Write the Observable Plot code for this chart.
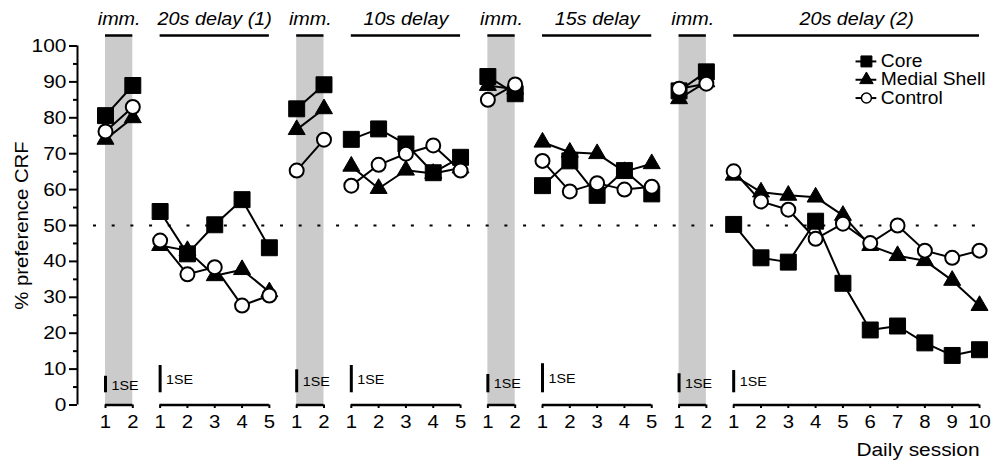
<!DOCTYPE html>
<html><head><meta charset="utf-8">
<script src="https://cdn.jsdelivr.net/npm/d3@7"></script>
<script src="https://cdn.jsdelivr.net/npm/@observablehq/plot@0.6"></script>
<style>body{margin:0;background:#fff}</style>
</head><body><div id="chart"></div>
<script>
// ---- data ----
const segmentLabels = ["imm.", "20s delay (1)", "imm.", "10s delay", "imm.", "15s delay", "imm.", "20s delay (2)"];
const segmentSessions = [2, 5, 2, 5, 2, 5, 2, 10];
const segmentIsImmediate = [true, false, true, false, true, false, true, false];
const seriesNames = ["Core", "Medial Shell", "Control"];
const coreValues = [80.6, 89.0, 53.9, 42.1, 50.2, 57.2, 43.8, 82.5, 89.2, 74.0, 76.9, 72.7, 64.7, 69.0,
  91.5, 86.7, 61.1, 68.0, 58.4, 65.3, 58.8, 87.5, 92.8,
  50.3, 41.0, 39.8, 51.2, 33.9, 20.9, 22.0, 17.3, 13.8, 15.4];
const medialValues = [74.0, 80.0, 44.4, 43.0, 36.0, 37.7, 31.5, 76.7, 82.5, 66.5, 60.3, 65.4, 64.5, 66.0,
  89.0, 88.0, 73.2, 70.4, 70.0, 65.0, 67.2, 85.3, 90.0,
  64.0, 59.3, 58.4, 57.9, 52.8, 44.4, 41.6, 40.2, 34.7, 27.7];
const controlValues = [76.2, 83.0, 45.8, 36.4, 38.4, 27.7, 30.5, 65.3, 73.9, 61.1, 66.9, 70.0, 72.3, 65.3,
  85.0, 89.3, 68.0, 59.5, 61.8, 60.0, 60.8, 88.1, 89.5,
  65.1, 56.7, 54.4, 46.3, 50.5, 45.1, 50.0, 43.0, 41.0, 43.0];
const seBarTop = [8.0, 11.0, 9.8, 11.0, 8.5, 11.5, 8.7, 9.6];
const seBarBottom = 3.4;
const seLabelY = [5.4, 7.0, 6.5, 7.0, 5.9, 7.3, 5.9, 6.35];
const seLabel = "1SE";
const yTicks = [0, 10, 20, 30, 40, 50, 60, 70, 80, 90, 100];
const yMinorTicks = [5, 15, 25, 35, 45, 55, 65, 75, 85, 95];
const chanceLevel = 50;
const yTitle = "% preference CRF";
const xTitle = "Daily session";

// ---- layout helpers ----
const W = 991, H = 461, mL = 77, mR = 12, mT = 45.5, mB = 56.5;
const xMin = -1.025, xMax = 32;
const pxX = (W - mL - mR) / (xMax - xMin);
const pxY = (H - mT - mB) / 100;
const topLineY = 100 + 10.5 / pxY;
const segLabelY = 100 + 26.5 / pxY;
const dotStart = -0.44, dotEnd = 31.9;
const legendY = [95.7, 90.6, 85.5];
const legendX = 27.86, legendHalf = 0.38;

const segStart = []; let acc = 0;
segmentSessions.forEach(n => { segStart.push(acc); acc += n; });
const segments = segmentLabels.map((label, i) => ({
  label, start: segStart[i], end: segStart[i] + segmentSessions[i] - 1,
  imm: segmentIsImmediate[i], seTop: seBarTop[i], seLabelY: seLabelY[i], se: seLabel
}));
const sessions = segments.flatMap((s, i) => d3.range(1, segmentSessions[i] + 1)
  .map(k => ({seg: i, session: k, idx: s.start + k - 1})));
const rowsOf = vals => sessions.map((s, j) => ({...s, value: vals[j]}));
const core = rowsOf(coreValues), medial = rowsOf(medialValues), control = rowsOf(controlValues);
const legend = seriesNames.map((name, i) => ({name, y: legendY[i]}));

const styles = {
  "Core": {symbol: "square", r: 9, fill: "black", stroke: "black", strokeWidth: 1},
  "Medial Shell": {symbol: "triangle", r: 6.3, fill: "black", stroke: "black", strokeWidth: 1},
  "Control": {symbol: "circle", r: 7, fill: "white", stroke: "black", strokeWidth: 2}
};
const legendStyles = {
  "Core": {symbol: "square", r: 6.2, fill: "black", stroke: "black", strokeWidth: 1},
  "Medial Shell": {symbol: "triangle", r: 5.0, fill: "black", stroke: "black", strokeWidth: 1},
  "Control": {symbol: "circle", r: 5, fill: "white", stroke: "black", strokeWidth: 1.5}
};
const seriesMarks = (rows, name) => [
  Plot.line(rows, {x: "idx", y: "value", z: "seg", stroke: "black", strokeWidth: 2}),
  Plot.dot(rows, {x: "idx", y: "value", ...styles[name]})
];

const chart = Plot.plot({
  width: W, height: H,
  marginLeft: mL, marginRight: mR, marginTop: mT, marginBottom: mB,
  x: {domain: [xMin, xMax], axis: null},
  y: {domain: [0, 100], axis: null},
  style: {fontFamily: "'Liberation Sans', Arial, sans-serif", background: "white", color: "black"},
  marks: [
    // grey bands for immediate sessions
    Plot.rect(segments.filter(d => d.imm), {x1: "start", x2: "end", y1: 0, y2: topLineY, fill: "#cbcbcb"}),
    // segment header lines and labels
    Plot.ruleY(segments, {y: topLineY, x1: "start", x2: "end", stroke: "black", strokeWidth: 2.5}),
    Plot.text(segments, {x: d => (d.start + d.end) / 2, y: segLabelY, text: "label", fontStyle: "italic", fontSize: 18, ariaLabel: "seg-labels"}),
    // y axis
    Plot.ruleX([xMin], {y1: 0, y2: 100, stroke: "black", strokeWidth: 2}),
    Plot.ruleY(yTicks, {y: d => d, x1: xMin - 8 / pxX, x2: xMin, stroke: "black", strokeWidth: 2}),
    Plot.ruleY(yMinorTicks, {y: d => d, x1: xMin - 4 / pxX, x2: xMin, stroke: "black", strokeWidth: 2}),
    Plot.text(yTicks, {x: xMin, y: d => d, text: d => String(d), dx: -11, textAnchor: "end", fontSize: 19, ariaLabel: "y-ticks"}),
    Plot.text([yTitle], {x: xMin, y: 50, text: d => d, rotate: -90, dx: -55, fontSize: 18.5, ariaLabel: "y-title"}),
    // chance line
    Plot.ruleY([chanceLevel], {x1: dotStart, x2: dotEnd, stroke: "black", strokeWidth: 2, strokeDasharray: "3,15.7"}),
    // segmented x axes
    Plot.ruleY(segments, {y: 0, x1: "start", x2: "end", stroke: "black", strokeWidth: 2.5}),
    Plot.ruleX(sessions, {x: "idx", y1: 0, y2: -3.5 / pxY, stroke: "black", strokeWidth: 2}),
    Plot.text(sessions, {x: "idx", y: 0, text: d => String(d.session), dy: 17.5, fontSize: 18.5, ariaLabel: "x-ticks"}),
    Plot.text([xTitle], {x: xMax, y: 0, text: d => d, dy: 45, textAnchor: "end", fontSize: 19, ariaLabel: "x-title"}),
    // 1SE bars
    Plot.ruleX(segments, {x: "start", y1: seBarBottom, y2: "seTop", stroke: "black", strokeWidth: 3}),
    Plot.text(segments, {x: "start", y: "seLabelY", text: "se", dx: 6, textAnchor: "start", fontSize: 13, ariaLabel: "se-labels"}),
    // series
    ...seriesMarks(medial, "Medial Shell"),
    ...seriesMarks(core, "Core"),
    ...seriesMarks(control, "Control"),
    // legend
    Plot.ruleY(legend, {y: "y", x1: legendX - legendHalf, x2: legendX + legendHalf, stroke: "black", strokeWidth: 2}),
    ...legend.map(d => Plot.dot([d], {x: legendX, y: "y", ...legendStyles[d.name]})),
    Plot.text(legend, {x: legendX + legendHalf, y: "y", text: "name", dx: 4, textAnchor: "start", fontSize: 17.5, ariaLabel: "legend-text"})
  ]
});

// widen glyphs to match the reference's broad lettering
const stretch = {"y-title": 1.4, "se-labels": 1.05};
chart.querySelectorAll("text").forEach(t => {
  const g = t.closest("g[aria-label]");
  const key = g ? g.getAttribute("aria-label") : "";
  const sx = stretch[key] || 1.1;
  const tr = t.getAttribute("transform");
  if (tr) t.setAttribute("transform", tr + ` scale(${sx},1)`);
});
document.getElementById("chart").append(chart);
</script>
</body></html>
